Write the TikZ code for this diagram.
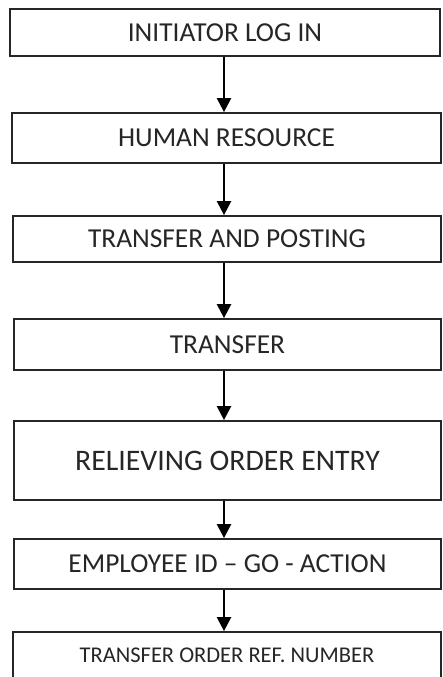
\documentclass[tikz,border=0pt]{standalone}
\usepackage{fontspec}
\setmainfont{Carlito}
\usetikzlibrary{arrows.meta}
\tikzset{
  stepbox/.style={draw=black!85, line width=1.8pt, rectangle, inner sep=0pt, text=black!85},
  flow/.style={draw=black, line width=2.4pt, -{Triangle[width=14pt,length=14pt]}},
  midtext/.style={font=\fontsize{27.4}{30}\selectfont},
  bigtext/.style={font=\fontsize{29.8}{33}\selectfont},
  smalltext/.style={font=\fontsize{22.5}{26}\selectfont}
}
\begin{document}
\begin{tikzpicture}[x=1pt,y=1pt]
  \useasboundingbox (0,0) rectangle (443,-677);
  \fill[white] (0,0) rectangle (443,-677);
  % process boxes, top to bottom
  \node[stepbox, midtext, minimum width=430pt, minimum height=47pt] (login) at (225,-32.5) {INITIATOR LOG IN};
  \node[stepbox, midtext, minimum width=429pt, minimum height=50pt] (hr) at (226.5,-138) {HUMAN RESOURCE};
  \node[stepbox, midtext, minimum width=428pt, minimum height=46pt] (tp) at (227,-239) {TRANSFER AND POSTING};
  \node[stepbox, midtext, minimum width=427pt, minimum height=51pt] (tr) at (227.5,-344.5) {TRANSFER};
  \node[stepbox, bigtext, minimum width=427pt, minimum height=79pt] (roe) at (227.5,-460.5) {RELIEVING ORDER ENTRY};
  \node[stepbox, midtext, minimum width=427pt, minimum height=50pt] (emp) at (227.5,-564) {EMPLOYEE ID – GO - ACTION};
  \node[stepbox, smalltext, minimum width=428pt, minimum height=46pt] (ref) at (227,-655) {TRANSFER ORDER REF. NUMBER};
  % arrows run down a common vertical line
  \coordinate (axis) at (224,0);
  \draw[flow] (login.south -| axis) -- (hr.north -| axis);
  \draw[flow] (hr.south -| axis) -- (tp.north -| axis);
  \draw[flow] (tp.south -| axis) -- (tr.north -| axis);
  \draw[flow] (tr.south -| axis) -- (roe.north -| axis);
  \draw[flow] (roe.south -| axis) -- (emp.north -| axis);
  \draw[flow] (emp.south -| axis) -- (ref.north -| axis);
\end{tikzpicture}
\end{document}
